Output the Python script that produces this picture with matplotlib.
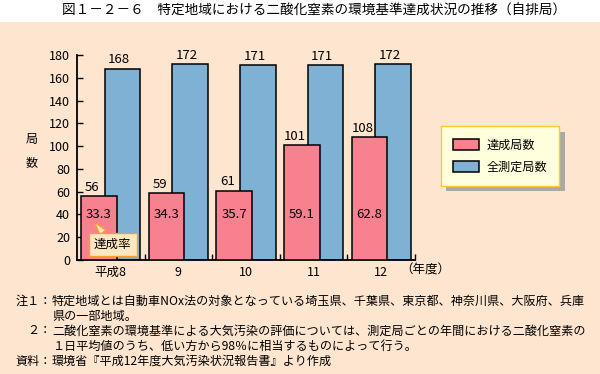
import numpy as np
import matplotlib
matplotlib.use('Agg')
import matplotlib.pyplot as plt
from matplotlib.patches import Rectangle

plt.rcParams['font.family'] = ['Noto Sans CJK JP', 'DejaVu Sans']

# data
years = ['平成8', '9', '10', '11', '12']
achieved = [56, 59, 61, 101, 108]      # 達成局数
measured = [168, 172, 171, 171, 172]   # 全測定局数
rate = [33.3, 34.3, 35.7, 59.1, 62.8]  # 達成率

pink = '#F8818F'
blue = '#7FB1D4'
bg = '#FDE5CF'

W, H = 600, 374
fig = plt.figure(figsize=(6, 3.74), dpi=100, facecolor=bg)
# white title strip
fig.patches.append(Rectangle((0, 1 - 22 / H), 1, 22 / H, transform=fig.transFigure,
                             facecolor='white', edgecolor='none', zorder=0))
fig.text(314 / W, 1 - 11 / H,
         '図１－２－６　特定地域における二酸化窒素の環境基準達成状況の推移（自排局）',
         ha='center', va='center', fontsize=9.8)

ax = fig.add_axes([77 / W, 1 - 260 / H, 338 / W, 205 / H])
ax.set_facecolor(bg)
x = np.arange(len(years))
w = 0.525
off = 0.175
b2 = ax.bar(x + off, measured, w, color=blue, edgecolor='black', linewidth=1.1, zorder=2)
b1 = ax.bar(x - off, achieved, w, color=pink, edgecolor='black', linewidth=1.1, zorder=3)

for i in range(len(years)):
    ax.text(x[i] - off - 0.1, achieved[i] + 2, str(achieved[i]), ha='center', va='bottom',
            fontsize=9.5, zorder=6)
    ax.text(x[i] + off - 0.05, measured[i] + 2, str(measured[i]), ha='center', va='bottom',
            fontsize=9.5, zorder=6)
    ax.text(x[i] - off, 40, f'{rate[i]:.1f}', ha='center', va='center', fontsize=9.5, zorder=4)

ax.annotate('達成率', xy=(x[0] - 0.24, 33), xytext=(x[0] + 0.03, 13.6),
            ha='center', va='center', fontsize=9, zorder=5,
            bbox=dict(boxstyle='square,pad=0.4', fc='#FFE8C0', ec='#F5A030', lw=1),
            arrowprops=dict(arrowstyle='wedge,tail_width=0.6', fc='#FFE8C0', ec='#F5A030', lw=1,
                            shrinkA=0, shrinkB=0))

ax.set_xlim(-0.5, len(years) - 0.5)
ax.set_ylim(0, 180)
ax.set_yticks(np.arange(0, 181, 20))
ax.set_xticks(x)
ax.set_xticklabels(years)
ax.set_xticks(np.arange(0.5, len(years), 1), minor=True)
ax.tick_params(axis='x', which='major', length=0, labelsize=9, pad=4)
ax.tick_params(axis='x', which='minor', direction='in', length=4, width=1)
ax.tick_params(axis='y', direction='in', length=4, width=1, labelsize=9, pad=5)
for s in ['top', 'right']:
    ax.spines[s].set_visible(False)
for s in ['left', 'bottom']:
    ax.spines[s].set_linewidth(1.3)
ax.text(4.28, -3, '（年度）', ha='left', va='top', fontsize=9, clip_on=False)

fig.text(32 / W, 1 - 140 / H, '局', ha='center', va='center', fontsize=8.7)
fig.text(32 / W, 1 - 163 / H, '数', ha='center', va='center', fontsize=8.7)

fig.legend([b1, b2], ['達成局数', '全測定局数'], loc='center',
           bbox_to_anchor=(500 / W, 1 - 156 / H), fontsize=8.7, fancybox=False,
           facecolor='#FFFFDD', edgecolor='#FFCC33', framealpha=1,
           shadow={'ox': 4, 'oy': -4, 'facecolor': '#A9ABA2', 'edgecolor': 'none', 'alpha': 1},
           handlelength=2.2, handleheight=1.1, labelspacing=0.75, borderpad=1.0,
           handletextpad=0.6, borderaxespad=0)

# notes
ys = [301, 316, 331, 346, 361]
fig.text(16 / W, 1 - ys[0] / H, '注１：', ha='left', va='center', fontsize=8.7)
fig.text(27 / W, 1 - ys[2] / H, '２：', ha='left', va='center', fontsize=8.7)
fig.text(16 / W, 1 - ys[4] / H, '資料：', ha='left', va='center', fontsize=8.7)
notes = ['特定地域とは自動車NOx法の対象となっている埼玉県、千葉県、東京都、神奈川県、大阪府、兵庫',
         '県の一部地域。',
         '二酸化窒素の環境基準による大気汚染の評価については、測定局ごとの年間における二酸化窒素の',
         '１日平均値のうち、低い方から98％に相当するものによって行う。',
         '環境省『平成12年度大気汚染状況報告書』より作成']
for yy, t in zip(ys, notes):
    fig.text(52 / W, 1 - yy / H, t, ha='left', va='center', fontsize=8.7)

fig.savefig('out.png', dpi=100, facecolor=bg)
